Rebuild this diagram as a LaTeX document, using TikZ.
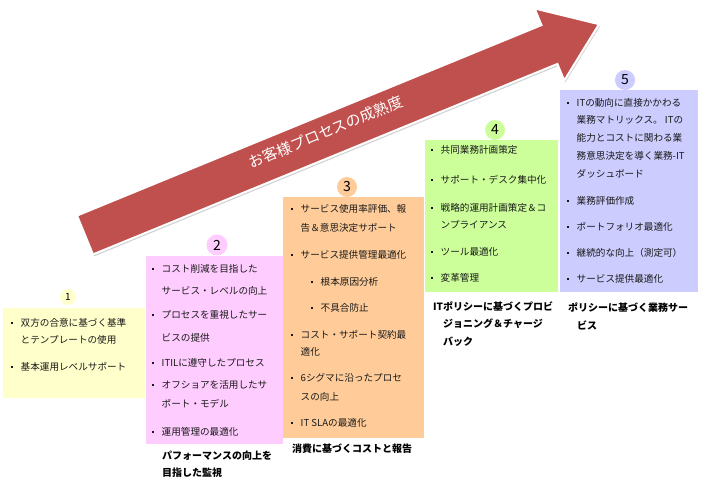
\documentclass[tikz,border=0pt]{standalone}
\usepackage{fontspec}
\setmainfont{Noto Sans CJK JP}
\usepackage{tikz}
\usetikzlibrary{shadows}
\definecolor{arrowred}{RGB}{192,80,77}
\definecolor{lvone}{RGB}{255,255,204}
\definecolor{lvtwo}{RGB}{255,204,255}
\definecolor{lvthree}{RGB}{255,204,153}
\definecolor{lvfour}{RGB}{204,255,153}
\definecolor{lvfive}{RGB}{204,204,255}
\newcommand{\bul}{\makebox[9.5pt][l]{\raisebox{2.6pt}{\rule{2pt}{2pt}}}}

\begin{document}
\begin{tikzpicture}[x=1pt, y=-1pt,
  every node/.style={font=\fontsize{9.6}{11}\selectfont, text=black!90},
  lvbox/.style={anchor=north west, inner sep=0pt, outer sep=0pt},
  item/.style={anchor=west, inner sep=0pt},
  caption/.style={anchor=west, inner sep=0pt, text=black, font=\bfseries\fontsize{10}{12}\selectfont},
  lvnum/.style={circle, inner sep=0pt, minimum size=20pt, text=black, font=\fontsize{14}{14}\selectfont}
]
  \fill[white] (0,0) rectangle (711,491);
  \useasboundingbox (0,0) rectangle (711,491);

  \begin{scope}[shift={(85,235)}, rotate=22.3]
    \draw[draw=white, line width=2pt, fill=arrowred,
          drop shadow={shadow xshift=1pt, shadow yshift=-2pt, opacity=0.35}]
      (0,-21) -- (502,-21) -- (502,-39) -- (555.6,0) -- (502,39) -- (502,21) -- (0,21) -- cycle;
    \node[transform shape, text=white, font=\fontsize{15}{15}\selectfont] (maturity) at (262,-4) {お客様プロセスの成熟度};
  \end{scope}

  \node[lvbox, fill=lvone, minimum width=142pt, minimum height=90pt] (box1) at (3,308) {};
  \node[lvbox, fill=lvtwo, minimum width=137pt, minimum height=188pt] (box2) at (146,256) {};
  \node[lvbox, fill=lvthree, minimum width=141pt, minimum height=241pt] (box3) at (283,197) {};
  \node[lvbox, fill=lvfour, minimum width=133pt, minimum height=152pt] (box4) at (425,140) {};
  \node[lvbox, fill=lvfive, minimum width=138pt, minimum height=202pt] (box5) at (560,90) {};

  \node[lvnum, fill=lvone, minimum size=16pt, font=\fontsize{10}{10}\selectfont] (num1) at (68,297) {1};
  \node[lvnum, fill=lvtwo, minimum size=21pt] (num2) at (217,245) {2};
  \node[lvnum, fill=lvthree] (num3) at (347,187) {3};
  \node[lvnum, fill=lvfour] (num4) at (495,130) {4};
  \node[lvnum, fill=lvfive] (num5) at (625,80) {5};

  \node[item] (t1a) at (11,323) {\bul 双方の合意に基づく基準};
  \node[item] (t1b) at (20.5,340) {とテンプレートの使用};
  \node[item] (t1c) at (11,367) {\bul 基本運用レベルサポート};

  \node[item] (t2a) at (152,269) {\bul コスト削減を目指した};
  \node[item] (t2b) at (161.5,291) {サービス・レベルの向上};
  \node[item] (t2c) at (152,315) {\bul プロセスを重視したサー};
  \node[item] (t2d) at (161.5,338) {ビスの提供};
  \node[item] (t2e) at (152,363) {\bul ITILに遵守したプロセス};
  \node[item] (t2f) at (152,385) {\bul オフショアを活用したサ};
  \node[item] (t2g) at (161.5,404) {ポート・モデル};
  \node[item] (t2h) at (152,432) {\bul 運用管理の最適化};
  \node[caption] (cap2a) at (162,456) {パフォーマンスの向上を};
  \node[caption] (cap2b) at (162,473) {目指した監視};

  \node[item] (t3a) at (291,209) {\bul サービス使用率評価、報};
  \node[item] (t3b) at (300.5,228) {告＆意思決定サポート};
  \node[item] (t3c) at (291,255) {\bul サービス提供管理最適化};
  \node[item] (t3d) at (311,282) {\bul 根本原因分析};
  \node[item] (t3e) at (311,308) {\bul 不具合防止};
  \node[item] (t3f) at (291,335) {\bul コスト・サポート契約最};
  \node[item] (t3g) at (300.5,352) {適化};
  \node[item] (t3h) at (291,378) {\bul 6シグマに沿ったプロセ};
  \node[item] (t3i) at (300.5,397) {スの向上};
  \node[item] (t3j) at (291,423) {\bul IT SLAの最適化};
  \node[caption] (cap3a) at (292,449) {消費に基づくコストと報告};

  \node[item] (t4a) at (431,150) {\bul 共同業務計画策定};
  \node[item] (t4b) at (431,180) {\bul サポート・デスク集中化};
  \node[item] (t4c) at (431,208) {\bul 戦略的運用計画策定＆コ};
  \node[item] (t4d) at (440.5,225) {ンプライアンス};
  \node[item] (t4e) at (431,252) {\bul ツール最適化};
  \node[item] (t4f) at (431,278) {\bul 変革管理};
  \node[caption] (cap4a) at (433,307) {ITポリシーに基づくプロビ};
  \node[caption] (cap4b) at (443,324) {ジョニング＆チャージ};
  \node[caption] (cap4c) at (443,342) {バック};

  \node[item] (t5a) at (567,103) {\bul ITの動向に直接かかわる};
  \node[item] (t5b) at (576.5,120) {業務マトリックス。 ITの};
  \node[item] (t5c) at (576.5,138) {能力とコストに関わる業};
  \node[item] (t5d) at (576.5,156) {務意思決定を導く業務-IT};
  \node[item] (t5e) at (576.5,174) {ダッシュボード};
  \node[item] (t5f) at (567,201) {\bul 業務評価作成};
  \node[item] (t5g) at (567,227) {\bul ポートフォリオ最適化};
  \node[item] (t5h) at (567,253) {\bul 継続的な向上（測定可）};
  \node[item] (t5i) at (567,279) {\bul サービス提供最適化};
  \node[caption] (cap5a) at (568,308) {ポリシーに基づく業務サー};
  \node[caption] (cap5b) at (577,325) {ビス};
\end{tikzpicture}
\end{document}
